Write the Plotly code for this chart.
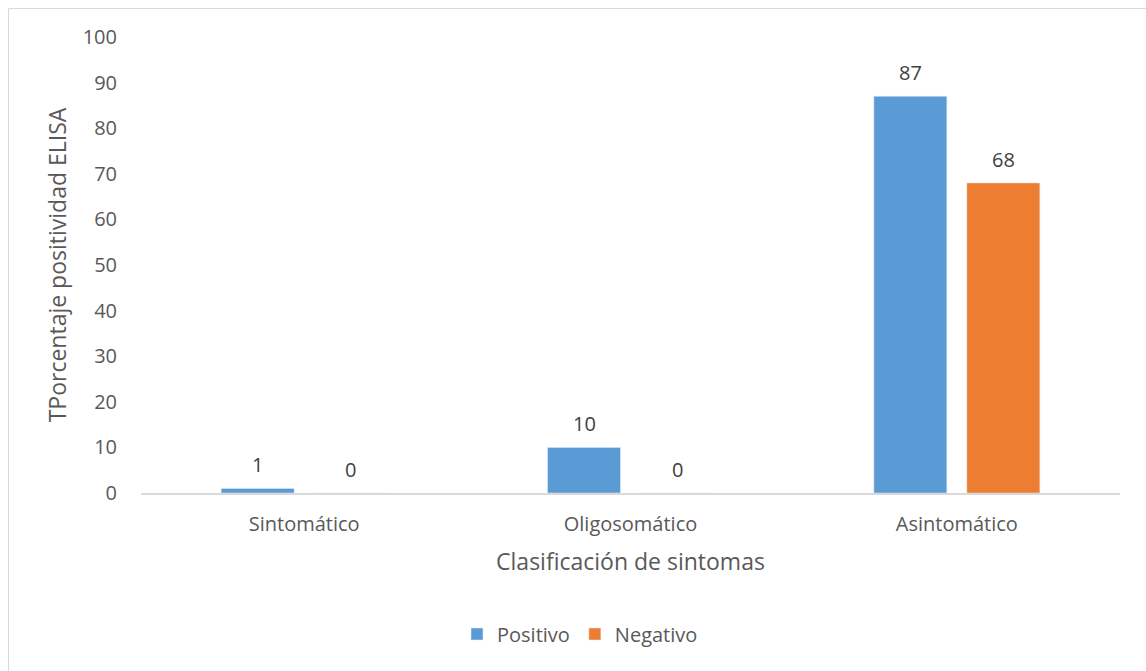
import plotly.graph_objects as go

categorias = ["Sintomático", "Oligosomático", "Asintomático"]
positivo = [1, 10, 87]
negativo = [0, 0, 68]

azul = "#5B9BD5"
naranja = "#ED7D31"
gris_texto = "#595959"
fuente = "Open Sans, sans-serif"

W, H = 1146, 671
ml, mr, mt, mb = 141, 26, 37, 178

fig = go.Figure()
fig.add_trace(go.Bar(name="Positivo", x=categorias, y=positivo, marker_color=azul))
fig.add_trace(go.Bar(name="Negativo", x=categorias, y=negativo, marker_color=naranja))

# value labels above each bar
desfase = 46.5
for serie, signo in ((positivo, -1), (negativo, 1)):
    for c, v in zip(categorias, serie):
        fig.add_annotation(x=c, y=v, xref="x", yref="y", text=str(v),
                           showarrow=False, xshift=signo * desfase,
                           yanchor="bottom", yshift=8,
                           font=dict(family=fuente, size=20, color="#404040"))

# chart frame (light gray border)
pw = W - ml - mr
ph = H - mt - mb
def px_x(p):
    return (p - ml) / pw
def px_y(p):
    return 1 - (p - mt) / ph
fig.add_shape(type="rect", xref="paper", yref="paper",
              x0=px_x(8.5), x1=px_x(W + 10), y0=px_y(H + 10), y1=px_y(8.5),
              line=dict(color="#D9D9D9", width=1), fillcolor="rgba(0,0,0,0)",
              layer="below")

fig.update_layout(
    width=W, height=H,
    margin=dict(l=ml, r=mr, t=mt, b=mb),
    paper_bgcolor="white", plot_bgcolor="white",
    barmode="group", bargap=0.43, bargroupgap=0.215,
    font=dict(family=fuente, color=gris_texto, size=20),
    showlegend=True,
    legend=dict(orientation="h", x=px_x(580), xanchor="center", y=px_y(634), yanchor="middle",
                font=dict(size=20, color=gris_texto), itemwidth=30,
                traceorder="normal"),
    xaxis=dict(
        showline=True, linecolor="#D9D9D9", linewidth=1.5,
        ticks="", tickfont=dict(size=20, color=gris_texto), ticklabelstandoff=12,
        title=dict(text="Clasificación de sintomas", font=dict(size=23, color=gris_texto),
                   standoff=18),
        showgrid=False, zeroline=False,
    ),
    yaxis=dict(
        range=[0, 100], dtick=10, showgrid=False, zeroline=False, showline=False,
        ticks="", tickfont=dict(size=20, color=gris_texto), ticklabelstandoff=23,
        title=dict(text="TPorcentaje positividad ELISA", font=dict(size=23, color=gris_texto),
                   standoff=9),
    ),
)

fig.write_html("out.html")
